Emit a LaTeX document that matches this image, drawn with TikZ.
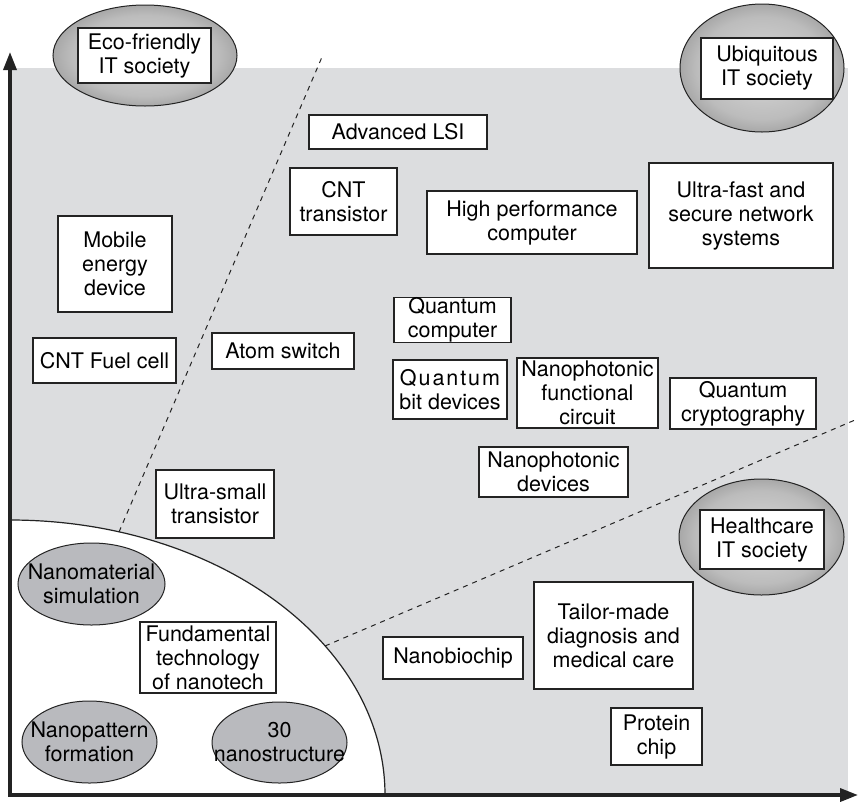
\documentclass[tikz,border=0pt]{standalone}
\usepackage{fontspec}
\setmainfont{TeX Gyre Heros}
\usetikzlibrary{shapes.geometric,arrows.meta}
\definecolor{bggray}{RGB}{220,221,223}
\definecolor{ink}{RGB}{35,35,35}
\definecolor{flatgray}{RGB}{185,186,190}
\definecolor{socin}{RGB}{218,218,218}
\definecolor{socmid}{RGB}{188,188,188}
\definecolor{socout}{RGB}{128,128,128}
\pgfdeclareradialshading{socshade}{\pgfpoint{0bp}{0bp}}{color(0bp)=(socin); color(20bp)=(socmid); color(35bp)=(socout); color(50bp)=(socout)}
\begin{document}
\begin{tikzpicture}[x=1pt,y=-1pt,
  every node/.style={font=\fontsize{21.5}{24}\selectfont, text=black},
  box/.style={draw=ink, line width=1.3pt, fill=white, align=center, inner sep=0pt},
  soc/.style={ellipse, draw=ink, line width=1pt, shading=socshade, inner sep=0pt},
  flat/.style={ellipse, draw=ink, line width=1pt, fill=flatgray, inner sep=0pt},
  label/.style={align=center, inner sep=0pt},
  divider/.style={draw=ink, line width=1pt, dash pattern=on 5pt off 5pt},
  axisline/.style={line width=3.5pt, draw=ink, -{Triangle[length=18pt,width=13pt]}}]
\useasboundingbox (0,0) rectangle (861,801);
% background regions
\fill[bggray] (10,68) rectangle (848,795);
\fill[white] (10,795) -- (10,520) arc[start angle=-90, end angle=0, x radius=375, y radius=275] -- cycle;
\draw[ink, line width=1.2pt] (10,520) arc[start angle=-90, end angle=0, x radius=375, y radius=275];
% dividers
\coordinate (d1a) at (119,532);
\coordinate (d1b) at (322,57);
\coordinate (d2a) at (325,646);
\coordinate (d2b) at (855,420);
\draw[divider] (d1a) -- (d1b);
\draw[divider] (d2a) -- (d2b);
% axes
\coordinate (origin) at (10,795);
\coordinate (ytip) at (10,52);
\coordinate (xtip) at (858,795);
\draw[axisline] (origin) -- (ytip);
\draw[axisline] (origin) -- (xtip);
\fill[ink] (8.25,793.25) rectangle (11.75,796.75);
% society ellipses
\node[soc, minimum width=184pt, minimum height=101pt] (ecoE) at (145,55.5) {};
\node[box, minimum width=133pt, minimum height=55pt] (eco) at (144.5,55.5) {Eco-friendly\\IT society};
\node[soc, minimum width=164pt, minimum height=128pt] (ubiE) at (762,68) {};
\node[box, minimum width=132pt, minimum height=61pt] (ubi) at (767,68.5) {Ubiquitous\\IT society};
\node[soc, minimum width=165pt, minimum height=116pt] (hcE) at (761.5,537) {};
\node[box, minimum width=124pt, minimum height=59pt] (hc) at (762,539.5) {Healthcare\\IT society};
% boxes
\node[box, minimum width=178pt, minimum height=34pt] (lsi) at (398,132) {Advanced LSI};
\node[box, minimum width=107pt, minimum height=67pt] (cntt) at (343.5,201.5) {CNT\\transistor};
\node[box, minimum width=210pt, minimum height=63pt] (hpc) at (532,222.5) {High performance\\computer};
\node[box, minimum width=184pt, minimum height=105pt] (net) at (741,215.5) {Ultra-fast and\\secure network\\systems};
\node[box, minimum width=114pt, minimum height=96pt] (mob) at (115,264) {Mobile\\energy\\device};
\node[box, minimum width=117pt, minimum height=44pt] (qc) at (452.5,320) {Quantum\\computer};
\node[box, minimum width=142pt, minimum height=36pt] (atom) at (283,351) {Atom switch};
\node[box, minimum width=143pt, minimum height=45pt] (fuel) at (104.5,360.5) {CNT Fuel cell};
\node[box, minimum width=114pt, minimum height=59pt] (qbit) at (450,389.5) {{\addfontfeature{LetterSpace=9}Quantum}\\bit devices};
\node[box, minimum width=141pt, minimum height=70pt] (npfc) at (587.5,393) {Nanophotonic\\functional\\circuit};
\node[box, minimum width=146pt, minimum height=51pt] (qcr) at (743,403.5) {Quantum\\cryptography};
\node[box, minimum width=149pt, minimum height=50pt] (npd) at (553.5,472) {Nanophotonic\\devices};
\node[box, minimum width=118pt, minimum height=68pt] (ust) at (215,504) {Ultra-small\\transistor};
\node[box, minimum width=159pt, minimum height=107pt] (tailor) at (613.5,635.5) {Tailor-made\\diagnosis and\\medical care};
\node[box, minimum width=140pt, minimum height=42pt] (nbc) at (453,658) {Nanobiochip};
\node[box, minimum width=91pt, minimum height=57pt] (prot) at (656.5,736.5) {Protein\\chip};
\node[box, minimum width=136pt, minimum height=71pt] (fund) at (208,657.5) {Fundamental\\technology\\of nanotech};
% fundamental ellipses
\node[flat, minimum width=147pt, minimum height=82pt] (nmE) at (91.5,584) {};
\node[label] (nm) at (nmE.center) {Nanomaterial\\simulation};
\node[flat, minimum width=135pt, minimum height=82pt] (npE) at (89.5,742) {};
\node[label] (np) at (npE.center) {Nanopattern\\formation};
\node[flat, minimum width=135pt, minimum height=81pt] (nsE) at (279.5,742.5) {};
\node[label] (ns) at (nsE.center) {30\\nanostructure};
\end{tikzpicture}
\end{document}
